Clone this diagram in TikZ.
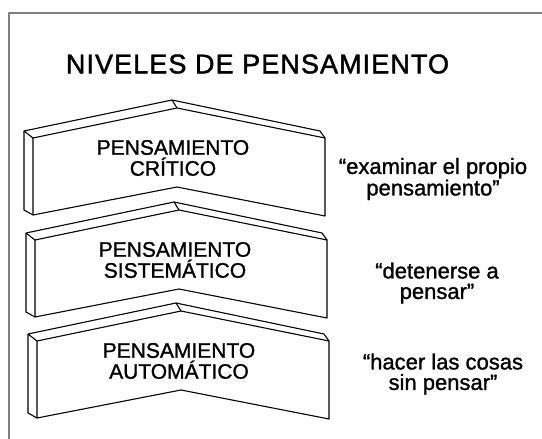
\documentclass[tikz,border=0pt]{standalone}
\usepackage{fontspec}
\setmainfont{Liberation Sans}[FakeBold=1.2]
\newfontfamily\titlefont{Liberation Sans}[FakeBold=1.6, LetterSpace=4]
\usepackage{tikz}

\begin{document}
\begin{tikzpicture}[x=1pt, y=-1pt, line join=round,
    blocktext/.style={align=center, inner sep=0pt, font=\fontsize{21}{21}\selectfont},
    saytext/.style={align=center, inner sep=0pt, font=\fontsize{22}{20.5}\selectfont}]
            \useasboundingbox (0, 0) rectangle (542, 439);
            \draw [gray, line width=1.5pt] (542, 13) -- (9, 13) -- (9, 439);
            \node (title) at (257.5, 64) [inner sep=0pt, font=\titlefont\fontsize{27}{27}\selectfont] {NIVELES DE PENSAMIENTO};
            % bloque de arriba
            \draw [line width=1.1pt, shift={(33, 138)}] (0, 0) -- (144, -30) -- (292, 0) -- (292, 78) -- (144, 49) -- (0, 77) -- cycle;
            \draw [line width=1.1pt, shift={(33, 138)}] (0, 0) -- (-9, -7) -- (139, -38) -- (287, -7) -- (292, 0);
            \draw [line width=1.1pt, shift={(33, 138)}] (139, -38) -- (144, -30);
            \draw [line width=1.1pt, shift={(33, 138)}] (-9, -7) -- (-9, 72) -- (0, 77);
            % bloque del medio
            \draw [line width=1.1pt, shift={(35, 240)}] (0, 0) -- (144, -30) -- (292, 0) -- (292, 78) -- (144, 49) -- (0, 77) -- cycle;
            \draw [line width=1.1pt, shift={(35, 240)}] (0, 0) -- (-9, -7) -- (139, -38) -- (287, -7) -- (292, 0);
            \draw [line width=1.1pt, shift={(35, 240)}] (139, -38) -- (144, -30);
            \draw [line width=1.1pt, shift={(35, 240)}] (-9, -7) -- (-9, 72) -- (0, 77);
            % bloque de abajo
            \draw [line width=1.1pt, shift={(37, 341)}] (0, 0) -- (144, -30) -- (292, 0) -- (292, 78) -- (144, 49) -- (0, 77) -- cycle;
            \draw [line width=1.1pt, shift={(37, 341)}] (0, 0) -- (-9, -7) -- (139, -38) -- (287, -7) -- (292, 0);
            \draw [line width=1.1pt, shift={(37, 341)}] (139, -38) -- (144, -30);
            \draw [line width=1.1pt, shift={(37, 341)}] (-9, -7) -- (-9, 72) -- (0, 77);
            % textos
            \node (critico) at (173, 158) [blocktext] {PENSAMIENTO\\CRÍTICO};
            \node (sistematico) at (175, 260) [blocktext] {PENSAMIENTO\\SISTEMÁTICO};
            \node (automatico) at (179, 361) [blocktext] {PENSAMIENTO\\AUTOMÁTICO};
            \node (examinar) at (433, 179) [saytext] {“examinar el propio\\pensamiento”};
            \node (detenerse) at (437, 283) [saytext] {“detenerse a\\pensar”};
            \node (hacer) at (443, 374) [saytext] {“hacer las cosas\\sin pensar”};
        \end{tikzpicture}
\end{document}
